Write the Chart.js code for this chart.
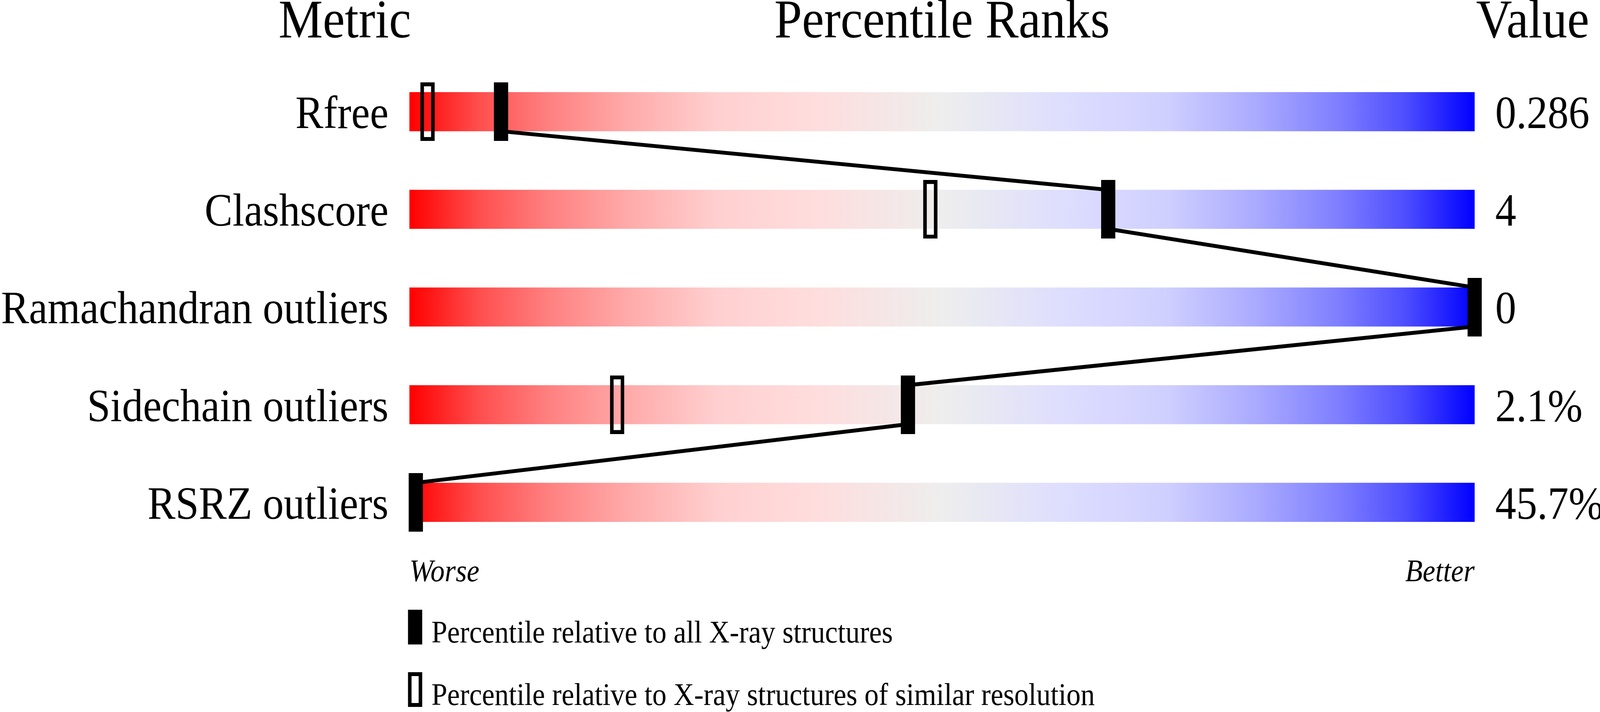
<!DOCTYPE html>
<html><head><meta charset="utf-8">
<script src="https://cdn.jsdelivr.net/npm/chart.js@4.4.1/dist/chart.umd.min.js"></script>
<style>html,body{margin:0;padding:0;background:#fff;overflow:hidden}canvas{display:block}</style>
</head><body>
<canvas id="c" width="4506" height="1824" style="width:100vw;height:100vh"></canvas>
<script>
// ---- data ----
const metrics = ['Rfree', 'Clashscore', 'Ramachandran outliers', 'Sidechain outliers', 'RSRZ outliers'];
const valueLabels = ['0.286', '4', '0', '2.1%', '45.7%'];
const pctAll = [8.6, 65.6, 100, 46.8, 0.6];       // percentile relative to all X-ray structures
const pctSimilar = [1.7, 48.9, 100, 19.5, 0.6];   // percentile relative to similar resolution
const rankRange = [0, 100];
const endLabels = ['Worse', 'Better'];
const headers = ['Metric', 'Percentile Ranks', 'Value'];
const legendLabels = ['Percentile relative to all X-ray structures', 'Percentile relative to X-ray structures of similar resolution'];

// ---- styles ----
const serif = "'Liberation Serif', 'Times New Roman', serif";
const gradStops = [
  [0, '#FF0000'], [0.065, '#FF4E4E'], [0.13, '#FF8080'], [0.205, '#FFAAAA'], [0.29, '#FFD0D0'],
  [0.38, '#FFDDDD'], [0.5, '#EEEEEE'], [0.62, '#DDDDFF'], [0.71, '#D0D0FF'], [0.795, '#AAAAFF'],
  [0.87, '#8080FF'], [0.935, '#4E4EFF'], [1, '#0000FF']
];
const barFrac = 0.4;

function markerCanvas(filled) {
  const c = document.createElement('canvas');
  c.width = 40; c.height = 150;
  const g = c.getContext('2d');
  g.fillStyle = '#000';
  g.fillRect(0, 0, 40, 150);
  if (!filled) g.clearRect(10, 10, 20, 130);
  return c;
}
const filledMarker = markerCanvas(true);
const hollowMarker = markerCanvas(false);

const connector = [];
for (let i = 0; i < pctAll.length - 1; i++) {
  connector.push({x: pctAll[i], y: i + barFrac / 2});
  connector.push({x: pctAll[i + 1], y: i + 1 - barFrac / 2});
}

const textPlugin = {
  id: 'extraText',
  afterDraw(chart) {
    const {ctx} = chart;
    const xs = chart.scales.x;
    const left = xs.getPixelForValue(rankRange[0]);
    const right = xs.getPixelForValue(rankRange[1]);
    ctx.save();
    ctx.fillStyle = '#000';
    ctx.textBaseline = 'alphabetic';
    ctx.font = '140px ' + serif;
    ctx.textAlign = 'center';
    ctx.fillText(headers[0], 971, 96);
    ctx.fillText(headers[1], (left + right) / 2, 96);
    ctx.textAlign = 'left';
    ctx.fillText(headers[2], 4157, 96);
    // legend
    const lx = left - 4;
    ctx.fillRect(lx, 1562, 40, 89);
    ctx.lineWidth = 10;
    ctx.strokeStyle = '#000';
    ctx.strokeRect(lx + 5, 1727, 30, 79);
    ctx.font = '80px ' + serif;
    ctx.fillText(legendLabels[0], left + 62, 1646);
    ctx.fillText(legendLabels[1], left + 62, 1806);
    ctx.restore();
  }
};

const yBase = {
  type: 'linear', min: -0.5, max: metrics.length - 0.5, reverse: true, offset: false,
  grid: {display: false}, border: {display: false}
};

new Chart(document.getElementById('c'), {
  type: 'bar',
  data: {
    datasets: [
      {
        type: 'scatter', label: legendLabels[0], order: 0, clip: false,
        data: pctAll.map((p, i) => ({x: p, y: i})),
        pointStyle: filledMarker, pointRadius: 5, xAxisID: 'x', yAxisID: 'y'
      },
      {
        type: 'scatter', label: legendLabels[1], order: 1, clip: false,
        data: pctSimilar.map((p, i) => ({x: p, y: i})),
        pointStyle: hollowMarker, pointRadius: 5, xAxisID: 'x', yAxisID: 'y'
      },
      {
        type: 'line', order: 2, clip: false, data: connector,
        borderColor: '#000', borderWidth: 10, pointRadius: 0, fill: false, tension: 0,
        xAxisID: 'x', yAxisID: 'y'
      },
      {
        type: 'bar', indexAxis: 'y', order: 3,
        data: metrics.map((m, i) => ({x: rankRange.slice(), y: i})),
        barPercentage: barFrac, categoryPercentage: 1, borderWidth: 0,
        xAxisID: 'x', yAxisID: 'y',
        backgroundColor: (c) => {
          const ch = c.chart;
          if (!ch.chartArea) return '#eeeeee';
          const xs = ch.scales.x;
          const g = ch.ctx.createLinearGradient(xs.getPixelForValue(rankRange[0]), 0, xs.getPixelForValue(rankRange[1]), 0);
          gradStops.forEach(s => g.addColorStop(s[0], s[1]));
          return g;
        }
      }
    ]
  },
  options: {
    responsive: false,
    devicePixelRatio: 1,
    animation: false,
    events: [],
    layout: {padding: {top: 161, left: 0, right: 0, bottom: 0}},
    plugins: {legend: {display: false}, tooltip: {enabled: false}, title: {display: false}},
    scales: {
      x: {
        type: 'linear', min: rankRange[0], max: rankRange[1], position: 'bottom', offset: false,
        grid: {display: false}, border: {display: false},
        afterBuildTicks: s => { s.ticks = rankRange.map(v => ({value: v})); },
        ticks: {
          callback: (v, i) => endLabels[i], align: 'inner', padding: 0, maxRotation: 0, autoSkip: false,
          color: '#000', font: {family: serif, size: 80, style: 'italic'}
        },
        afterFit: s => { s.height = 412; }
      },
      y: Object.assign({}, yBase, {
        position: 'left',
        afterBuildTicks: s => { s.ticks = metrics.map((_, i) => ({value: i})); },
        ticks: {callback: v => metrics[v], padding: 51, labelOffset: 11, autoSkip: false, color: '#000', font: {family: serif, size: 118}},
        afterFit: s => { s.width = 1153; }
      }),
      yv: Object.assign({}, yBase, {
        axis: 'y', position: 'right',
        afterBuildTicks: s => { s.ticks = valueLabels.map((_, i) => ({value: i})); },
        ticks: {callback: v => valueLabels[v], padding: 50, labelOffset: 11, autoSkip: false, color: '#000', font: {family: serif, size: 118}},
        afterFit: s => { s.width = 353; }
      })
    }
  },
  plugins: [textPlugin]
});
</script>
</body></html>
